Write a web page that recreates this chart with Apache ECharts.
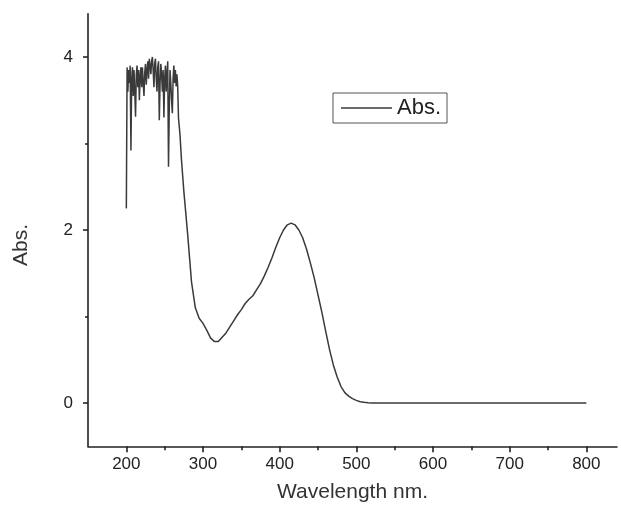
<!DOCTYPE html>
<html>
<head>
<meta charset="utf-8">
<script src="https://cdn.jsdelivr.net/npm/echarts@6/dist/echarts.min.js"></script>
<style>html,body{margin:0;padding:0;background:#fff}#c{width:621px;height:517px}</style>
</head>
<body>
<div id="c"></div>
<script>
// Wavelength (nm) and absorbance
const wavelengths = [
  200,201,202,203,204,205,206,207,208,209,
  210,211,212,213,214,215,216,217,218,219,
  220,221,222,223,224,225,226,227,228,229,
  230,231,232,233,234,235,236,237,238,239,
  240,241,242,243,244,245,246,247,248,249,
  250,251,252,253,254,255,256,257,258,259,
  260,261,262,263,264,265,266,267,268,270,
  272,275,280,285,290,295,300,305,310,315,
  320,325,330,335,340,345,350,355,360,365,
  370,375,380,385,390,395,400,405,410,415,
  420,425,430,435,440,445,450,455,460,465,
  470,475,480,485,490,495,500,505,510,515,
  520,540,560,600,650,700,750,800
];
const absorbance = [
  2.25,3.88,3.60,3.85,3.70,3.90,2.92,3.75,3.88,3.55,
  3.85,3.60,3.31,3.80,3.90,3.65,3.85,3.50,3.78,3.88,
  3.65,3.88,3.70,3.55,3.82,3.92,3.68,3.85,3.95,3.75,
  3.98,3.90,3.80,3.95,4.00,3.85,3.65,3.92,3.98,3.75,
  3.60,3.88,3.95,3.27,3.70,3.92,3.80,3.60,3.85,3.30,
  3.75,3.90,3.60,3.80,3.95,2.73,3.40,3.85,3.70,3.50,
  3.35,3.75,3.90,3.70,3.85,3.66,3.80,3.66,3.30,3.10,
  2.80,2.45,1.95,1.40,1.10,0.98,0.92,0.84,0.75,0.71,
  0.71,0.76,0.81,0.88,0.95,1.02,1.08,1.15,1.20,1.24,
  1.31,1.38,1.47,1.57,1.68,1.80,1.91,2.00,2.06,2.08,
  2.06,2.00,1.91,1.78,1.62,1.45,1.25,1.05,0.83,0.62,
  0.44,0.30,0.19,0.12,0.08,0.05,0.03,0.015,0.008,0.003,
  0,0,0,0,0,0,0,0
];
const xMajorTicks = [200,300,400,500,600,700,800];
const xMinorTicks = [250,350,450,550,650,750];
const yMajorTicks = [0,2,4];
const yMinorTicks = [1,3];
const seriesName = 'Abs.';
const xTitle = 'Wavelength nm.';
const yTitle = 'Abs.';

const data = wavelengths.map((w, i) => [w, absorbance[i]]);
const axisCol = '#222';
const lineCol = '#3a3a3a';
const font = 'Liberation Sans, Arial, sans-serif';

const chart = echarts.init(document.getElementById('c'), null, {renderer: 'canvas'});
chart.setOption({
  animation: false,
  backgroundColor: '#fff',
  grid: {left: 88, right: 4, top: 13.75, bottom: 70.75, containLabel: false},
  legend: {
    data: [{name: seriesName, icon: 'rect'}],
    left: 333, top: 93,
    orient: 'horizontal',
    borderColor: '#555', borderWidth: 1,
    padding: [4, 6, 4, 8],
    itemWidth: 51, itemHeight: 1.5, itemGap: 6,
    itemStyle: {color: lineCol, borderWidth: 0},
    lineStyle: {width: 0},
    textStyle: {fontFamily: font, fontSize: 22, color: '#222'}
  },
  xAxis: [{
    type: 'value', min: 150, max: 840,
    name: xTitle, nameLocation: 'middle', nameGap: 35,
    nameTextStyle: {fontFamily: font, fontSize: 21, color: '#333'},
    axisLine: {show: true, onZero: false, lineStyle: {color: axisCol, width: 1.6}},
    axisTick: {show: true, inside: false, length: 6, customValues: xMajorTicks, lineStyle: {color: axisCol, width: 1.6}},
    axisLabel: {show: true, margin: 10, customValues: xMajorTicks, fontFamily: font, fontSize: 17, color: '#222'},
    splitLine: {show: false}
  }, {
    type: 'value', min: 150, max: 840, position: 'bottom',
    axisLine: {show: false, onZero: false},
    axisTick: {show: true, inside: false, length: 4, customValues: xMinorTicks, lineStyle: {color: axisCol, width: 1.6}},
    axisLabel: {show: false},
    splitLine: {show: false}
  }],
  yAxis: [{
    type: 'value', min: -0.5, max: 4.5,
    name: yTitle, nameLocation: 'middle', nameGap: 56, nameRotate: 90,
    nameTextStyle: {fontFamily: font, fontSize: 21, color: '#333', padding: [0, 30, 0, 0]},
    axisLine: {show: true, onZero: false, lineStyle: {color: axisCol, width: 1.6}},
    axisTick: {show: true, inside: false, length: 5, customValues: yMajorTicks, lineStyle: {color: axisCol, width: 1.6}},
    axisLabel: {show: true, margin: 15, customValues: yMajorTicks, fontFamily: font, fontSize: 17, color: '#222'},
    splitLine: {show: false}
  }, {
    type: 'value', min: -0.5, max: 4.5, position: 'left',
    axisLine: {show: false, onZero: false},
    axisTick: {show: true, inside: false, length: 3, customValues: yMinorTicks, lineStyle: {color: axisCol, width: 1.6}},
    axisLabel: {show: false},
    splitLine: {show: false}
  }],
  series: [{
    name: seriesName,
    type: 'line',
    data: data,
    showSymbol: false, symbol: 'none',
    smooth: false,
    lineStyle: {color: lineCol, width: 1.5},
    itemStyle: {color: lineCol}
  }]
});
</script>
</body>
</html>
